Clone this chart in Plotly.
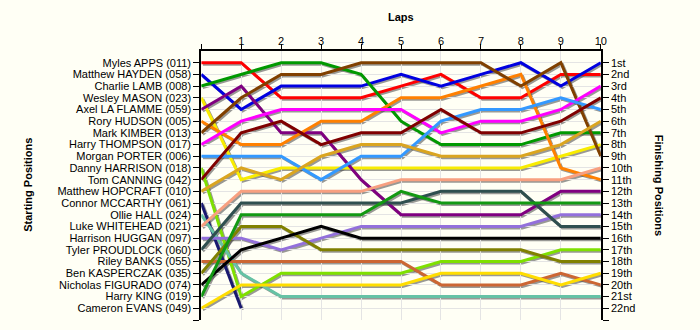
import plotly.graph_objects as go

laps = list(range(0, 11))

drivers = ["Myles APPS (011)", "Matthew HAYDEN (058)", "Charlie LAMB (008)", "Wesley MASON (023)",
           "Axel LA FLAMME (059)", "Rory HUDSON (005)", "Mark KIMBER (013)", "Harry THOMPSON (017)",
           "Morgan PORTER (006)", "Danny HARRISON (018)", "Tom CANNING (042)", "Matthew HOPCRAFT (010)",
           "Connor MCCARTHY (061)", "Ollie HALL (024)", "Luke WHITEHEAD (021)", "Harrison HUGGAN (097)",
           "Tyler PROUDLOCK (060)", "Riley BANKS (055)", "Ben KASPERCZAK (035)", "Nicholas FIGURADO (074)",
           "Harry KING (019)", "Cameron EVANS (049)"]

finish_labels = ["1st", "2nd", "3rd", "4th", "5th", "6th", "7th", "8th", "9th", "10th", "11th",
                 "12th", "13th", "14th", "15th", "16th", "17th", "18th", "19th", "20th", "21st", "22nd"]

# positions per lap (lap 0 .. lap 10)
apps       = [1, 1, 4, 4, 4, 3, 2, 4, 4, 2, 2]
hayden     = [2, 5, 3, 3, 3, 2, 3, 2, 1, 3, 1]
lamb       = [3, 2, 1, 1, 2, 6, 8, 8, 8, 7, 7]
mason      = [4, 11, 10, 10, 10, 10, 10, 10, 10, 9, 8]
laflamme   = [5, 3, 7, 7, 11, 14, 14, 14, 14, 12, 12]
hudson     = [6, 8, 8, 6, 6, 4, 4, 3, 2, 10, 11]
kimber     = [7, 4, 2, 2, 1, 1, 1, 1, 3, 1, 9]
thompson   = [8, 6, 5, 5, 5, 5, 7, 6, 6, 5, 3]
porter     = [9, 9, 9, 11, 9, 9, 6, 5, 5, 4, 5]
harrison   = [10, 21, 19, 19, 19, 19, 18, 18, 18, 17, 17]
canning    = [11, 7, 6, 8, 7, 7, 5, 7, 7, 6, 4]
hopcraft   = [12, 10, 11, 9, 8, 8, 9, 9, 9, 8, 6]
mccarthy   = [13, 22, None, None, None, None, None, None, None, None, None]
hall       = [14, 19, 21, 21, 21, 21, 21, 21, 21, 21, 21]
whitehead  = [15, 12, 12, 12, 12, 11, 11, 11, 11, 11, 10]
huggan     = [16, 16, 17, 16, 15, 15, 15, 15, 15, 14, 14]
proudlock  = [17, 13, 13, 13, 13, 13, 12, 12, 12, 15, 15]
banks      = [18, 18, 18, 18, 18, 18, 20, 20, 20, 19, 20]
kasperczak = [19, 15, 15, 17, 17, 17, 17, 17, 17, 18, 18]
figurado   = [20, 17, 16, 15, 16, 16, 16, 16, 16, 16, 16]
king       = [21, 14, 14, 14, 14, 12, 13, 13, 13, 13, 13]
evans      = [22, 20, 20, 20, 20, 20, 19, 19, 19, 20, 19]

series = [apps, hayden, lamb, mason, laflamme, hudson, kimber, thompson, porter, harrison, canning,
          hopcraft, mccarthy, hall, whitehead, huggan, proudlock, banks, kasperczak, figurado, king, evans]

colors = ["#FF0000", "#0000E0", "#009900", "#F8EC00", "#800080", "#FF8000", "#804000", "#FF00FF",
          "#3399FF", "#7FE000", "#800000", "#DAA520", "#191970", "#66C2A5", "#F8A080", "#9370DB",
          "#2F4F4F", "#CC6633", "#808000", "#000000", "#129912", "#FFDD00"]

W, H = 700, 330
left, right, top, bottom = 203, 606, 51, 320
dx, dy = 1.5, 1.5
xdom = [left / W, right / W]
ydom = [1 - bottom / H, 1 - top / H]
xdom_s = [(left + dx) / W, (right + dx) / W]
ydom_s = [1 - (bottom + dy) / H, 1 - (top + dy) / H]

fig = go.Figure()

# shadows
for s in series:
    fig.add_trace(go.Scatter(x=laps, y=s, mode="lines", xaxis="x", yaxis="y",
                             line=dict(color="rgba(70,70,70,0.55)", width=3),
                             hoverinfo="skip", showlegend=False))
# main lines
for name, s, c in zip(drivers, series, colors):
    fig.add_trace(go.Scatter(x=laps, y=s, mode="lines", xaxis="x2", yaxis="y2",
                             line=dict(color=c, width=3), name=name, showlegend=False))
# dummies for overlay axes
fig.add_trace(go.Scatter(x=[0], y=[1], xaxis="x2", yaxis="y3", mode="markers",
                         marker=dict(opacity=0), hoverinfo="skip", showlegend=False))
fig.add_trace(go.Scatter(x=[0], y=[1], xaxis="x3", yaxis="y2", mode="markers",
                         marker=dict(opacity=0), hoverinfo="skip", showlegend=False))

font = dict(family="Liberation Sans, Arial, sans-serif", size=11, color="#000000")
yr = [23, 0]

fig.update_layout(
    width=W, height=H, margin=dict(l=0, r=0, t=0, b=0),
    paper_bgcolor="#FFFFF5", plot_bgcolor="rgba(0,0,0,0)",
    font=font, showlegend=False,
    xaxis=dict(domain=xdom_s, range=[0, 10], anchor="y", visible=False, fixedrange=True),
    yaxis=dict(domain=ydom_s, range=yr, anchor="x", visible=False, fixedrange=True),
    xaxis2=dict(domain=xdom, range=[0, 10], anchor="y2", side="top",
                tickmode="array", tickvals=laps, ticktext=[""] + [str(v) for v in laps[1:]],
                ticks="", ticklabelstandoff=0,
                showline=True, linecolor="#000", linewidth=2,
                showgrid=True, gridcolor="#E4E4E4", gridwidth=1, zeroline=False,
                tickfont=font),
    xaxis3=dict(range=[0, 10], overlaying="x2", anchor="y2", side="top",
                tickmode="array", tickvals=laps, showticklabels=False,
                ticks="outside", ticklen=6, tickcolor="#000", tickwidth=1,
                showline=False, showgrid=False, zeroline=False),
    yaxis2=dict(domain=ydom, range=yr, anchor="x2", side="left",
                tickmode="array", tickvals=list(range(1, 24)), ticktext=drivers + [""],
                ticks="outside", ticklen=6, tickcolor="#000", tickwidth=1,
                showline=True, linecolor="#000", linewidth=2,
                showgrid=True, gridcolor="#E4E4E4", gridwidth=1, zeroline=False,
                tickfont=font),
    yaxis3=dict(range=yr, overlaying="y2", anchor="x2", side="right",
                tickmode="array", tickvals=list(range(1, 24)), ticktext=finish_labels + [""],
                ticks="outside", ticklen=6, tickcolor="#000", tickwidth=1,
                showline=True, linecolor="#000", linewidth=2,
                showgrid=False, zeroline=False, tickfont=font),
)

bold = dict(family="Liberation Sans, Arial, sans-serif", size=11, color="#000000")
fig.add_annotation(text="<b>Laps</b>", xref="paper", yref="paper",
                   x=(left + right) / 2 / W, y=1 - 17 / H, xanchor="center", yanchor="middle",
                   showarrow=False, font=bold)
fig.add_annotation(text="<b>Starting Positions</b>", xref="paper", yref="paper",
                   x=28 / W, y=1 - 185 / H, xanchor="center", yanchor="middle",
                   showarrow=False, font=bold, textangle=-90)
fig.add_annotation(text="<b>Finishing Positions</b>", xref="paper", yref="paper",
                   x=665 / W, y=1 - 185 / H, xanchor="center", yanchor="middle",
                   showarrow=False, font=bold, textangle=90)

fig.write_html("out.html")
